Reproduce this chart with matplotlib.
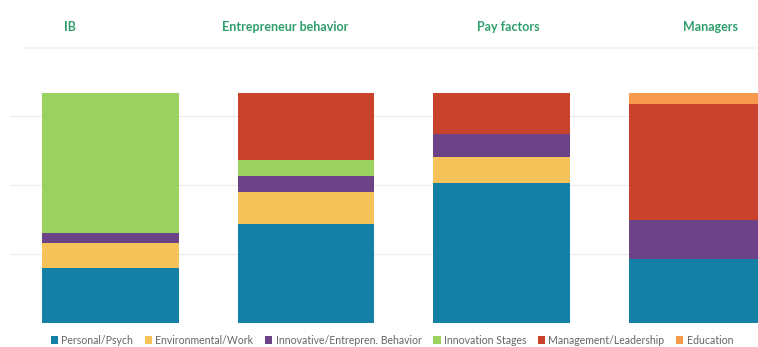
import matplotlib.pyplot as plt
import numpy as np

# share of each factor group per study area (percent)
areas = ['IB', 'Entrepreneur behavior', 'Pay factors', 'Managers']
groups = ['Personal/Psych', 'Environmental/Work', 'Innovative/Entrepren. Behavior',
          'Innovation Stages', 'Management/Leadership', 'Education']
personal = [24, 43, 61, 28]
environmental = [11, 14, 11, 0]
innovative = [4, 7, 10, 17]
stages = [61, 7, 0, 0]
management = [0, 29, 18, 50]
education = [0, 0, 0, 5]

colors = ['#1580a5', '#f6c35b', '#6c4386', '#9bd160', '#c9432c', '#f79a4e']
title_x = [70, 285, 508, 710]


def main():
    fig = plt.figure(figsize=(7.58, 3.47), dpi=100)
    W, H = 758, 347
    # axes runs a little past the right edge, so the last bar is cut off
    ax = fig.add_axes([10 / W, 24 / H, 758 / W, 241.5 / H])

    x = np.arange(len(areas))
    bottom = np.zeros(len(areas))
    series = [personal, environmental, innovative, stages, management, education]
    for name, vals, c in zip(groups, series, colors):
        ax.bar(x, vals, 0.7, bottom=bottom, color=c, label=name, zorder=2)
        bottom += np.array(vals)

    ax.set_xlim(-0.5137, -0.5137 + 758 / 195.5)
    ax.set_ylim(0, 105)
    ax.set_yticks([0, 30, 60, 90])
    ax.yaxis.grid(True, color='#ececec', linewidth=0.8, zorder=0)
    ax.set_xticks([])
    ax.tick_params(left=False, labelleft=False)
    for s in ax.spines.values():
        s.set_visible(False)

    for t, px in zip(areas, title_x):
        fig.text(px / W, 1 - 27 / H, t, ha='center', va='center',
                 fontsize=9, fontweight='bold', color='#2f9e6b', family='Lato')
    fig.add_artist(plt.Line2D([25 / W, 1], [1 - 48 / H] * 2, color='#f3f3f3', linewidth=1.5))

    leg = fig.legend(loc='center', bbox_to_anchor=(392 / W, 1 - 340 / H), ncol=6,
                     frameon=False, handlelength=0.7, handleheight=0.7,
                     handletextpad=0.3, columnspacing=1.1, prop={'family': 'Lato', 'size': 7.6})
    for t in leg.get_texts():
        t.set_color('#666666')

    fig.savefig('out.png', dpi=100)


if __name__ == "__main__":
    main()
